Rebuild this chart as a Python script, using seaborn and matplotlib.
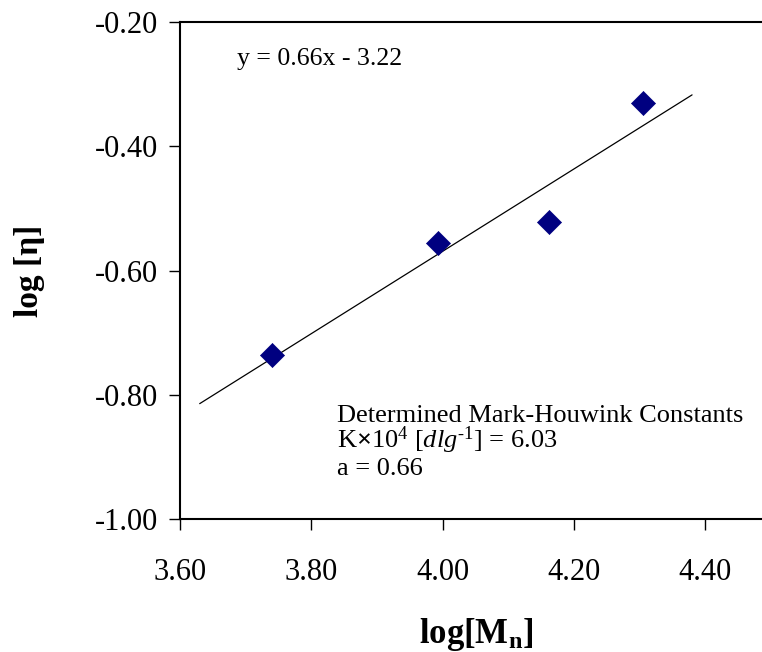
import numpy as np
import pandas as pd
import matplotlib
matplotlib.use("Agg")
import matplotlib.pyplot as plt
import seaborn as sns

# Intrinsic viscosity vs. number-average molecular weight (log-log)
log_mn = [3.740, 3.993, 4.162, 4.305]
log_eta = [-0.736, -0.556, -0.522, -0.330]

# Extent of the linear trendline
trend_x_start = 3.63
trend_x_end = 4.38

y_ticks = [-1.00, -0.80, -0.60, -0.40, -0.20]
x_ticks = [3.60, 3.80, 4.00, 4.20, 4.40]

K_times_1e4 = 6.03
exponent_a = 0.66

sns.set_theme(style="white")
plt.rcParams["font.family"] = ["Liberation Serif", "DejaVu Serif"]
plt.rcParams["mathtext.fontset"] = "custom"
plt.rcParams["mathtext.rm"] = "Liberation Serif"
plt.rcParams["mathtext.it"] = "Liberation Serif:italic"
plt.rcParams["mathtext.bf"] = "Liberation Serif:bold"
plt.rcParams["text.color"] = "black"
plt.rcParams["axes.labelcolor"] = "black"
plt.rcParams["xtick.color"] = "black"
plt.rcParams["ytick.color"] = "black"

df = pd.DataFrame({"log_mn": log_mn, "log_eta": log_eta})

# least-squares fit, drawn over the trendline extent
slope, intercept = np.polyfit(df["log_mn"], df["log_eta"], 1)
fit = pd.DataFrame({"x": [trend_x_start, trend_x_end]})
fit["y"] = slope * fit["x"] + intercept

fig = plt.figure(figsize=(7.62, 6.52), dpi=100)
ax = fig.add_axes([180 / 762, 1 - 519 / 652, 1 - 180 / 762, 497 / 652])

sns.lineplot(data=fit, x="x", y="y", ax=ax, color="black", linewidth=0.9)
sns.scatterplot(data=df, x="log_mn", y="log_eta", ax=ax, marker="D",
                s=150, color="#000080", edgecolor="#000080", linewidth=0.5,
                zorder=3)

ax.set_xlim(3.60, 3.60 + 0.2 * 582 / 131.3)
ax.set_ylim(-1.00, -0.20)
ax.set_xticks(x_ticks)
ax.set_yticks(y_ticks)
ax.set_xticklabels([f"{v:.2f}" for v in x_ticks])
ax.set_yticklabels([f"{v:.2f}" for v in y_ticks])

for side in ["left", "bottom", "top"]:
    ax.spines[side].set_visible(True)
    ax.spines[side].set_color("black")
    ax.spines[side].set_linewidth(1.5)
ax.spines["right"].set_visible(False)

ax.tick_params(axis="both", which="major", direction="out", length=8,
               width=1.0, color="black", labelsize=22, labelcolor="black",
               bottom=True, left=True, top=False, right=False)
ax.tick_params(axis="x", pad=20)
ax.tick_params(axis="y", pad=8)

ax.set_xlabel(r"log[M$_\mathbf{n}$]", fontsize=25, fontweight="bold",
              va="baseline", color="black")
ax.xaxis.set_label_coords(0.509, -0.250)
ax.set_ylabel("log [η]", fontsize=24, fontweight="bold", va="center",
              color="black")
ax.yaxis.set_label_coords(-0.258, 0.5)

ax.text(0.0979, 0.9135, f"y = {slope:.2f}x - {abs(intercept):.2f}",
        transform=ax.transAxes, fontsize=18.5, ha="left", va="baseline",
        color="black")

ax.text(0.2698, 0.1958, "Determined Mark-Houwink Constants",
        transform=ax.transAxes, fontsize=19, ha="left", va="baseline",
        color="black")
ax.text(0.2698, 0.1435,
        r"K$\mathbf{\times}$10$^{4}$ [$\mathit{dlg}^{\text{-}1}$] = "
        + f"{K_times_1e4:.2f}",
        transform=ax.transAxes, fontsize=19, ha="left", va="baseline",
        color="black")
ax.text(0.2698, 0.0885, f"a = {exponent_a:.2f}",
        transform=ax.transAxes, fontsize=19, ha="left", va="baseline",
        color="black")

fig.savefig("out.png", dpi=100)
